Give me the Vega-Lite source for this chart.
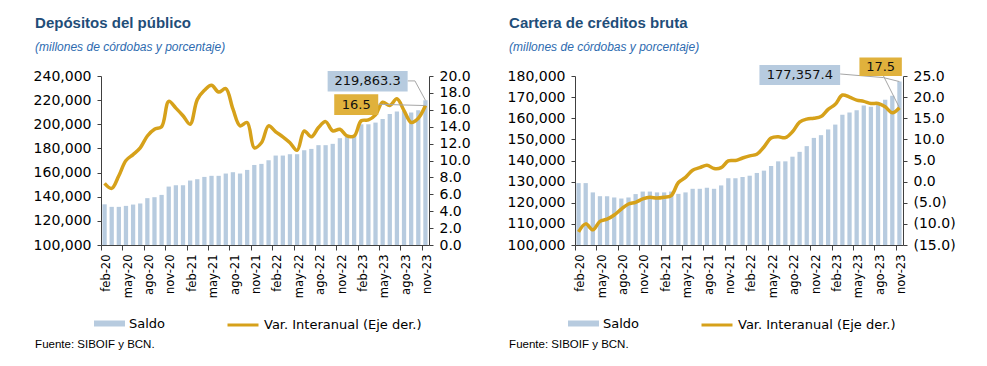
{
  "$schema": "https://vega.github.io/schema/vega-lite/v6.json",
  "padding": {"left": 33, "top": 15, "right": 5, "bottom": 5},
  "background": "white",
  "config": {
    "view": {"stroke": null},
    "font": "DejaVu Sans",
    "axis": {"labelFont": "DejaVu Sans", "labelFontSize": 14, "labelColor": "#000000", "domainColor": "#404040", "tickColor": "#404040", "grid": false, "title": null, "tickSize": 4, "labelPadding": 6},
    "legend": {"labelFont": "DejaVu Sans", "labelFontSize": 13, "labelColor": "#000000", "padding": 0, "labelOffset": 4},
    "title": {"anchor": "start", "font": "Liberation Sans", "fontSize": 15, "fontWeight": "bold", "color": "#1F4E79", "subtitleFont": "Liberation Sans", "subtitleFontSize": 12, "subtitleFontStyle": "italic", "subtitleColor": "#2E6BB0", "subtitlePadding": 11, "dx": 2},
    "concat": {"spacing": 36}
  },
  "datasets": {
    "dep": [
      {"m":"feb-20","saldo":133700,"tasa":7.3},
      {"m":"mar-20","saldo":131600,"tasa":6.7},
      {"m":"abr-20","saldo":131600,"tasa":8.2},
      {"m":"may-20","saldo":132400,"tasa":10.0},
      {"m":"jun-20","saldo":133500,"tasa":10.7},
      {"m":"jul-20","saldo":134400,"tasa":11.5},
      {"m":"ago-20","saldo":138800,"tasa":12.9},
      {"m":"sep-20","saldo":139600,"tasa":13.7},
      {"m":"oct-20","saldo":141500,"tasa":14.0},
      {"m":"nov-20","saldo":148400,"tasa":17.0},
      {"m":"dic-20","saldo":149500,"tasa":16.2},
      {"m":"ene-21","saldo":149500,"tasa":15.3},
      {"m":"feb-21","saldo":153400,"tasa":14.3},
      {"m":"mar-21","saldo":154500,"tasa":17.2},
      {"m":"abr-21","saldo":156400,"tasa":18.3},
      {"m":"may-21","saldo":157300,"tasa":18.9},
      {"m":"jun-21","saldo":157300,"tasa":18.1},
      {"m":"jul-21","saldo":159200,"tasa":18.5},
      {"m":"ago-21","saldo":160300,"tasa":16.1},
      {"m":"sep-21","saldo":159200,"tasa":14.1},
      {"m":"oct-21","saldo":162200,"tasa":14.5},
      {"m":"nov-21","saldo":166300,"tasa":11.5},
      {"m":"dic-21","saldo":167200,"tasa":12.1},
      {"m":"ene-22","saldo":170200,"tasa":14.1},
      {"m":"feb-22","saldo":174100,"tasa":13.4},
      {"m":"mar-22","saldo":174100,"tasa":12.8},
      {"m":"abr-22","saldo":175200,"tasa":12.1},
      {"m":"may-22","saldo":175200,"tasa":11.2},
      {"m":"jun-22","saldo":178500,"tasa":13.5},
      {"m":"jul-22","saldo":179600,"tasa":12.8},
      {"m":"ago-22","saldo":182700,"tasa":13.9},
      {"m":"sep-22","saldo":182700,"tasa":14.6},
      {"m":"oct-22","saldo":183800,"tasa":13.5},
      {"m":"nov-22","saldo":188500,"tasa":13.7},
      {"m":"dic-22","saldo":189600,"tasa":12.9},
      {"m":"ene-23","saldo":190700,"tasa":12.9},
      {"m":"feb-23","saldo":200000,"tasa":14.7},
      {"m":"mar-23","saldo":200000,"tasa":14.8},
      {"m":"abr-23","saldo":201400,"tasa":15.4},
      {"m":"may-23","saldo":204400,"tasa":16.9},
      {"m":"jun-23","saldo":208500,"tasa":16.5},
      {"m":"jul-23","saldo":210500,"tasa":17.3},
      {"m":"ago-23","saldo":211000,"tasa":15.9},
      {"m":"sep-23","saldo":209700,"tasa":14.5},
      {"m":"oct-23","saldo":211600,"tasa":15.0},
      {"m":"nov-23","saldo":219863.3,"tasa":16.5}
    ],
    "cred": [
      {"m":"feb-20","saldo":129300,"tasa":-11.9},
      {"m":"mar-20","saldo":129300,"tasa":-10.0},
      {"m":"abr-20","saldo":124900,"tasa":-11.4},
      {"m":"may-20","saldo":123100,"tasa":-9.4},
      {"m":"jun-20","saldo":123100,"tasa":-8.9},
      {"m":"jul-20","saldo":122500,"tasa":-7.9},
      {"m":"ago-20","saldo":122000,"tasa":-6.5},
      {"m":"sep-20","saldo":122500,"tasa":-5.3},
      {"m":"oct-20","saldo":124100,"tasa":-4.9},
      {"m":"nov-20","saldo":125300,"tasa":-4.1},
      {"m":"dic-20","saldo":125300,"tasa":-3.7},
      {"m":"ene-21","saldo":124900,"tasa":-3.9},
      {"m":"feb-21","saldo":124900,"tasa":-3.7},
      {"m":"mar-21","saldo":125300,"tasa":-3.3},
      {"m":"abr-21","saldo":124200,"tasa":-0.2},
      {"m":"may-21","saldo":124900,"tasa":1.0},
      {"m":"jun-21","saldo":126600,"tasa":2.7},
      {"m":"jul-21","saldo":126600,"tasa":3.3},
      {"m":"ago-21","saldo":127100,"tasa":3.9},
      {"m":"sep-21","saldo":126600,"tasa":3.1},
      {"m":"oct-21","saldo":128200,"tasa":3.3},
      {"m":"nov-21","saldo":131600,"tasa":4.9},
      {"m":"dic-21","saldo":131600,"tasa":5.0},
      {"m":"ene-22","saldo":132200,"tasa":5.6},
      {"m":"feb-22","saldo":132800,"tasa":6.1},
      {"m":"mar-22","saldo":134100,"tasa":6.5},
      {"m":"abr-22","saldo":135200,"tasa":8.2},
      {"m":"may-22","saldo":137400,"tasa":10.3},
      {"m":"jun-22","saldo":139600,"tasa":10.6},
      {"m":"jul-22","saldo":139600,"tasa":10.4},
      {"m":"ago-22","saldo":141800,"tasa":11.8},
      {"m":"sep-22","saldo":144100,"tasa":14.1},
      {"m":"oct-22","saldo":146800,"tasa":14.8},
      {"m":"nov-22","saldo":150700,"tasa":15.0},
      {"m":"dic-22","saldo":152000,"tasa":15.4},
      {"m":"ene-23","saldo":154700,"tasa":17.1},
      {"m":"feb-23","saldo":157000,"tasa":18.3},
      {"m":"mar-23","saldo":161600,"tasa":20.5},
      {"m":"abr-23","saldo":162700,"tasa":20.0},
      {"m":"may-23","saldo":163800,"tasa":19.3},
      {"m":"jun-23","saldo":166000,"tasa":19.0},
      {"m":"jul-23","saldo":165400,"tasa":18.5},
      {"m":"ago-23","saldo":167400,"tasa":18.5},
      {"m":"sep-23","saldo":168800,"tasa":17.7},
      {"m":"oct-23","saldo":170600,"tasa":16.3},
      {"m":"nov-23","saldo":177357.4,"tasa":17.5}
    ]
  },
  "resolve": {"scale": {"fill": "independent", "stroke": "independent"}, "legend": {"fill": "independent", "stroke": "independent"}},
  "hconcat": [
    {
      "title": {"text": "Fuente: SIBOIF y BCN.", "orient": "bottom", "anchor": "start", "font": "Liberation Sans", "fontSize": 11.5, "fontWeight": "normal", "color": "#000000", "offset": 7, "dx": 2, "subtitle": ""},
      "vconcat": [
        {
          "title": {"text": "Depósitos del público", "subtitle": "(millones de córdobas y porcentaje)", "offset": 16},
          "width": 328,
          "height": 169,
          "data": {"name": "dep"},
          "encoding": {
            "x": {"field": "m", "type": "ordinal", "sort": null,
              "scale": {"paddingInner": 0.4, "paddingOuter": 0.2},
              "axis": {"values": ["feb-20","may-20","ago-20","nov-20","feb-21","may-21","ago-21","nov-21","feb-22","may-22","ago-22","nov-22","feb-23","may-23","ago-23","nov-23"],
                "labelAngle": -90, "labelFontSize": 11.5, "labelPadding": 4, "tickSize": 5, "bandPosition": 0, "tickOffset": -1.42, "labelOffset": 3.56, "labelOverlap": false}}
          },
          "layer": [
            {
              "encoding": {"y": {"field": "saldo", "type": "quantitative", "scale": {"domain": [100000, 240000], "nice": false, "zero": false},
                "axis": {"orient": "left", "values": [100000,120000,140000,160000,180000,200000,220000,240000], "labelExpr": "format(datum.value, ',.0f')"}}},
              "layer": [
                {"mark": {"type": "bar"},
                 "encoding": {"y2": {"datum": 100000},
                   "fill": {"datum": "Saldo", "type": "nominal", "scale": {"range": ["#B7CBDF"]},
                     "legend": {"orient": "none", "legendX": -7, "legendY": 232, "title": null, "symbolType": "M-1,-0.1935H1V0.1935H-1Z", "symbolSize": 961, "symbolStrokeWidth": 0}}}},
                {"transform": [{"filter": "datum.m === 'nov-23'"}],
                 "mark": {"type": "point", "shape": "M-17.8,-19.4H-10.5L0,0", "size": 4, "filled": false, "stroke": "#A6A6A6", "strokeWidth": 1, "opacity": 1}},
                {"transform": [{"filter": "datum.m === 'nov-23'"}],
                 "mark": {"type": "point", "shape": "M-97.8,-29.4H-17.8V-8.7H-97.8Z", "size": 4, "filled": true, "fill": "#B7CBDF", "strokeWidth": 0, "opacity": 1}},
                {"transform": [{"filter": "datum.m === 'nov-23'"}],
                 "mark": {"type": "text", "dx": -57.8, "dy": -19, "align": "center", "baseline": "middle", "font": "DejaVu Sans", "fontSize": 13, "color": "#111111"},
                 "encoding": {"text": {"field": "saldo", "type": "quantitative", "format": ",.1f"}}}
              ]
            },
            {
              "encoding": {"y": {"field": "tasa", "type": "quantitative", "scale": {"domain": [0, 20], "nice": false, "zero": false},
                "axis": {"orient": "right", "values": [0,2,4,6,8,10,12,14,16,18,20], "labelExpr": "format(datum.value, '.1f')"}}},
              "layer": [
                {"mark": {"type": "line", "interpolate": "catmull-rom", "strokeWidth": 3.5},
                 "encoding": {"stroke": {"datum": "Var. Interanual (Eje der.)", "type": "nominal", "scale": {"range": ["#D6A11A"]},
                   "legend": {"orient": "none", "legendX": 125, "legendY": 232, "title": null, "symbolType": "stroke", "symbolSize": 961, "symbolStrokeWidth": 3}}}},
                {"transform": [{"filter": "datum.m === 'nov-23'"}],
                 "mark": {"type": "point", "shape": "M-47.2,-1.3L0,0", "size": 4, "filled": false, "stroke": "#A6A6A6", "strokeWidth": 1, "opacity": 1}},
                {"transform": [{"filter": "datum.m === 'nov-23'"}],
                 "mark": {"type": "point", "shape": "M-91.2,-11.3H-47.2V9.4H-91.2Z", "size": 4, "filled": true, "fill": "#E0B13C", "strokeWidth": 0, "opacity": 1}},
                {"transform": [{"filter": "datum.m === 'nov-23'"}],
                 "mark": {"type": "text", "dx": -69.2, "dy": -1, "align": "center", "baseline": "middle", "font": "DejaVu Sans", "fontSize": 13, "color": "#111111"},
                 "encoding": {"text": {"field": "tasa", "type": "quantitative", "format": ".1f"}}}
              ]
            }
          ],
          "resolve": {"scale": {"y": "independent"}}
        }
      ]
    },
    {
      "title": {"text": "Fuente: SIBOIF y BCN.", "orient": "bottom", "anchor": "start", "font": "Liberation Sans", "fontSize": 11.5, "fontWeight": "normal", "color": "#000000", "offset": 7, "dx": 2, "subtitle": ""},
      "vconcat": [
        {
          "title": {"text": "Cartera de créditos bruta", "subtitle": "(millones de córdobas y porcentaje)", "offset": 5},
          "width": 328,
          "height": 169,
          "data": {"name": "cred"},
          "encoding": {
            "x": {"field": "m", "type": "ordinal", "sort": null,
              "scale": {"paddingInner": 0.4, "paddingOuter": 0.2},
              "axis": {"values": ["feb-20","may-20","ago-20","nov-20","feb-21","may-21","ago-21","nov-21","feb-22","may-22","ago-22","nov-22","feb-23","may-23","ago-23","nov-23"],
                "labelAngle": -90, "labelFontSize": 11.5, "labelPadding": 4, "tickSize": 5, "bandPosition": 0, "tickOffset": -1.42, "labelOffset": 3.56, "labelOverlap": false}}
          },
          "layer": [
            {
              "encoding": {"y": {"field": "saldo", "type": "quantitative", "scale": {"domain": [100000, 180000], "nice": false, "zero": false},
                "axis": {"orient": "left", "values": [100000,110000,120000,130000,140000,150000,160000,170000,180000], "labelExpr": "format(datum.value, ',.0f')"}}},
              "layer": [
                {"mark": {"type": "bar"},
                 "encoding": {"y2": {"datum": 100000},
                   "fill": {"datum": "Saldo", "type": "nominal", "scale": {"range": ["#B7CBDF"]},
                     "legend": {"orient": "none", "legendX": -7, "legendY": 232, "title": null, "symbolType": "M-1,-0.1935H1V0.1935H-1Z", "symbolSize": 961, "symbolStrokeWidth": 0}}}},
                {"transform": [{"filter": "datum.m === 'nov-23'"}],
                 "mark": {"type": "point", "shape": "M-59.3,-7.6L-16,-4L0,0", "size": 4, "filled": false, "stroke": "#A6A6A6", "strokeWidth": 1, "opacity": 1}},
                {"transform": [{"filter": "datum.m === 'nov-23'"}],
                 "mark": {"type": "point", "shape": "M-140,-16.6H-59.3V3.4H-140Z", "size": 4, "filled": true, "fill": "#B7CBDF", "strokeWidth": 0, "opacity": 1}},
                {"transform": [{"filter": "datum.m === 'nov-23'"}],
                 "mark": {"type": "text", "dx": -99.6, "dy": -6.6, "align": "center", "baseline": "middle", "font": "DejaVu Sans", "fontSize": 13, "color": "#111111"},
                 "encoding": {"text": {"field": "saldo", "type": "quantitative", "format": ",.1f"}}}
              ]
            },
            {
              "encoding": {"y": {"field": "tasa", "type": "quantitative", "scale": {"domain": [-15, 25], "nice": false, "zero": false},
                "axis": {"orient": "right", "values": [-15,-10,-5,0,5,10,15,20,25], "labelExpr": "datum.value < 0 ? '(' + format(-datum.value, '.1f') + ')' : format(datum.value, '.1f')"}}},
              "layer": [
                {"mark": {"type": "line", "interpolate": "catmull-rom", "strokeWidth": 3.5},
                 "encoding": {"stroke": {"datum": "Var. Interanual (Eje der.)", "type": "nominal", "scale": {"range": ["#D6A11A"]},
                   "legend": {"orient": "none", "legendX": 125, "legendY": 232, "title": null, "symbolType": "stroke", "symbolSize": 961, "symbolStrokeWidth": 3}}}},
                {"transform": [{"filter": "datum.m === 'nov-23'"}],
                 "mark": {"type": "point", "shape": "M-16,-31.8L0,0", "size": 4, "filled": false, "stroke": "#A6A6A6", "strokeWidth": 1, "opacity": 1}},
                {"transform": [{"filter": "datum.m === 'nov-23'"}],
                 "mark": {"type": "point", "shape": "M-40,-50.1H2.4V-31.8H-40Z", "size": 4, "filled": true, "fill": "#E0B13C", "strokeWidth": 0, "opacity": 1}},
                {"transform": [{"filter": "datum.m === 'nov-23'"}],
                 "mark": {"type": "text", "dx": -18.8, "dy": -41, "align": "center", "baseline": "middle", "font": "DejaVu Sans", "fontSize": 13, "color": "#111111"},
                 "encoding": {"text": {"field": "tasa", "type": "quantitative", "format": ".1f"}}}
              ]
            }
          ],
          "resolve": {"scale": {"y": "independent"}}
        }
      ]
    }
  ]
}
